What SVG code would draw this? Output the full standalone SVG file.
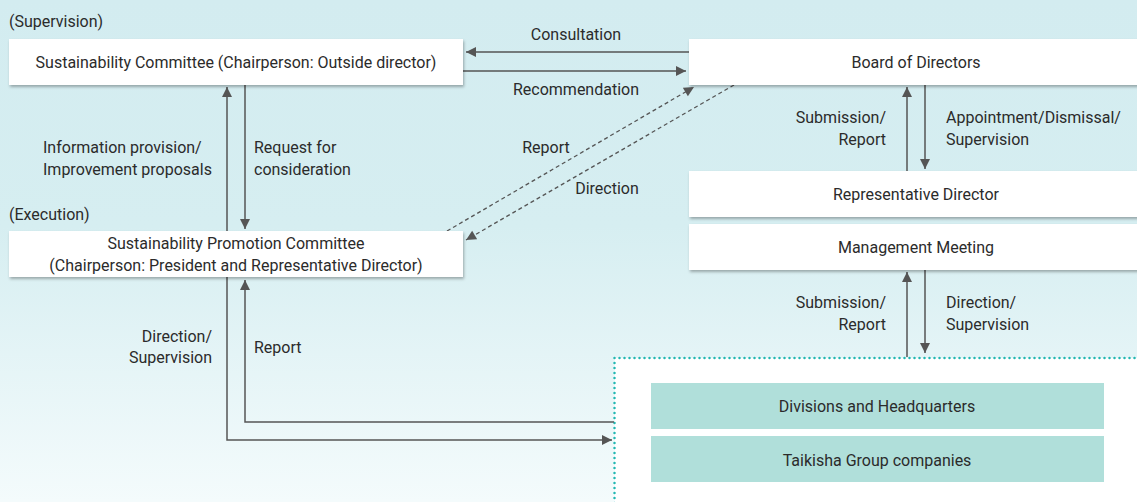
<svg xmlns="http://www.w3.org/2000/svg" width="1137" height="502" viewBox="0 0 1137 502">
<defs>
<linearGradient id="bg" x1="0" y1="0" x2="0" y2="1">
<stop offset="0" stop-color="#d3ecf0"/>
<stop offset="0.45" stop-color="#d6eef1"/>
<stop offset="1" stop-color="#f4fbfc"/>
</linearGradient>
<filter id="sh" x="-5%" y="-20%" width="110%" height="150%">
<feDropShadow dx="1" dy="2" stdDeviation="1.5" flood-color="#000" flood-opacity="0.3"/>
</filter>
<marker id="ah" viewBox="0 0 10 10" refX="10" refY="5" markerWidth="11" markerHeight="10" markerUnits="userSpaceOnUse" orient="auto">
<path d="M0,0 L10,5 L0,10 z" fill="#555"/>
</marker>
<style>
text{font-family:"Roboto","Liberation Sans",sans-serif;font-size:16px;fill:#2b2b2b}
.c{text-anchor:middle}
.r{text-anchor:end}
.box{fill:#fff;filter:url(#sh)}
.tbox{fill:#b0dfda}
.ln{fill:none;stroke:#555;stroke-width:1.5}
.dl{fill:none;stroke:#555;stroke-width:1.3;stroke-dasharray:4 3}
</style>
</defs>
<rect width="1137" height="502" fill="url(#bg)"/>
<rect x="614.5" y="358" width="530" height="160" fill="#fff" stroke="#22b7b2" stroke-width="2.5" stroke-dasharray="0 5" stroke-linecap="round"/>

<g id="connectors">
<line class="ln" x1="689" y1="52" x2="466" y2="52" marker-end="url(#ah)"/>
<line class="ln" x1="463" y1="71" x2="686" y2="71" marker-end="url(#ah)"/>
<line class="dl" x1="447" y1="231" x2="694" y2="87" marker-end="url(#ah)"/>
<line class="dl" x1="734" y1="85" x2="466" y2="240" marker-end="url(#ah)"/>
<line class="ln" x1="227" y1="231" x2="227" y2="87" marker-end="url(#ah)"/>
<line class="ln" x1="245" y1="85" x2="245" y2="229" marker-end="url(#ah)"/>
<polyline class="ln" points="227,277 227,440 612,440" marker-end="url(#ah)"/>
<polyline class="ln" points="614,422 245,422 245,280" marker-end="url(#ah)"/>
<line class="ln" x1="907" y1="171" x2="907" y2="87" marker-end="url(#ah)"/>
<line class="ln" x1="925" y1="85" x2="925" y2="169" marker-end="url(#ah)"/>
<line class="ln" x1="907" y1="357" x2="907" y2="272" marker-end="url(#ah)"/>
<line class="ln" x1="925" y1="270" x2="925" y2="353" marker-end="url(#ah)"/>
<text class="c" x="576" y="40">Consultation</text>
<text class="c" x="576" y="95">Recommendation</text>
<text class="c" x="546" y="153">Report</text>
<text class="c" x="607" y="194">Direction</text>
<text x="43" y="153">Information provision/</text>
<text x="43" y="175">Improvement proposals</text>
<text x="254" y="153">Request for</text>
<text x="254" y="175">consideration</text>
<text class="r" x="212" y="342">Direction/</text>
<text class="r" x="212" y="363">Supervision</text>
<text x="254" y="353">Report</text>
<text class="r" x="886" y="123">Submission/</text>
<text class="r" x="886" y="145">Report</text>
<text x="946" y="123">Appointment/Dismissal/</text>
<text x="946" y="145">Supervision</text>
<text class="r" x="886" y="308">Submission/</text>
<text class="r" x="886" y="330">Report</text>
<text x="946" y="308">Direction/</text>
<text x="946" y="330">Supervision</text>
</g>

<text x="9" y="27">(Supervision)</text>
<text x="9" y="220">(Execution)</text>

<g id="sustainability-committee">
<rect class="box" x="9" y="39" width="454" height="46"/>
<text class="c" x="236" y="68">Sustainability Committee (Chairperson: Outside director)</text>
</g>
<g id="board-of-directors">
<rect class="box" x="689" y="39" width="460" height="46"/>
<text class="c" x="916" y="68">Board of Directors</text>
</g>
<g id="representative-director">
<rect class="box" x="689" y="171" width="460" height="46"/>
<text class="c" x="916" y="200">Representative Director</text>
</g>
<g id="management-meeting">
<rect class="box" x="689" y="224" width="460" height="46"/>
<text class="c" x="916" y="253">Management Meeting</text>
</g>
<g id="sustainability-promotion-committee">
<rect class="box" x="9" y="231" width="454" height="46"/>
<text class="c" x="236" y="249">Sustainability Promotion Committee</text>
<text class="c" x="236" y="271">(Chairperson: President and Representative Director)</text>
</g>
<g id="divisions">
<rect class="tbox" x="651" y="383" width="453" height="46"/>
<text class="c" x="877" y="412">Divisions and Headquarters</text>
</g>
<g id="group-companies">
<rect class="tbox" x="651" y="436" width="453" height="46"/>
<text class="c" x="877" y="466">Taikisha Group companies</text>
</g>
</svg>
